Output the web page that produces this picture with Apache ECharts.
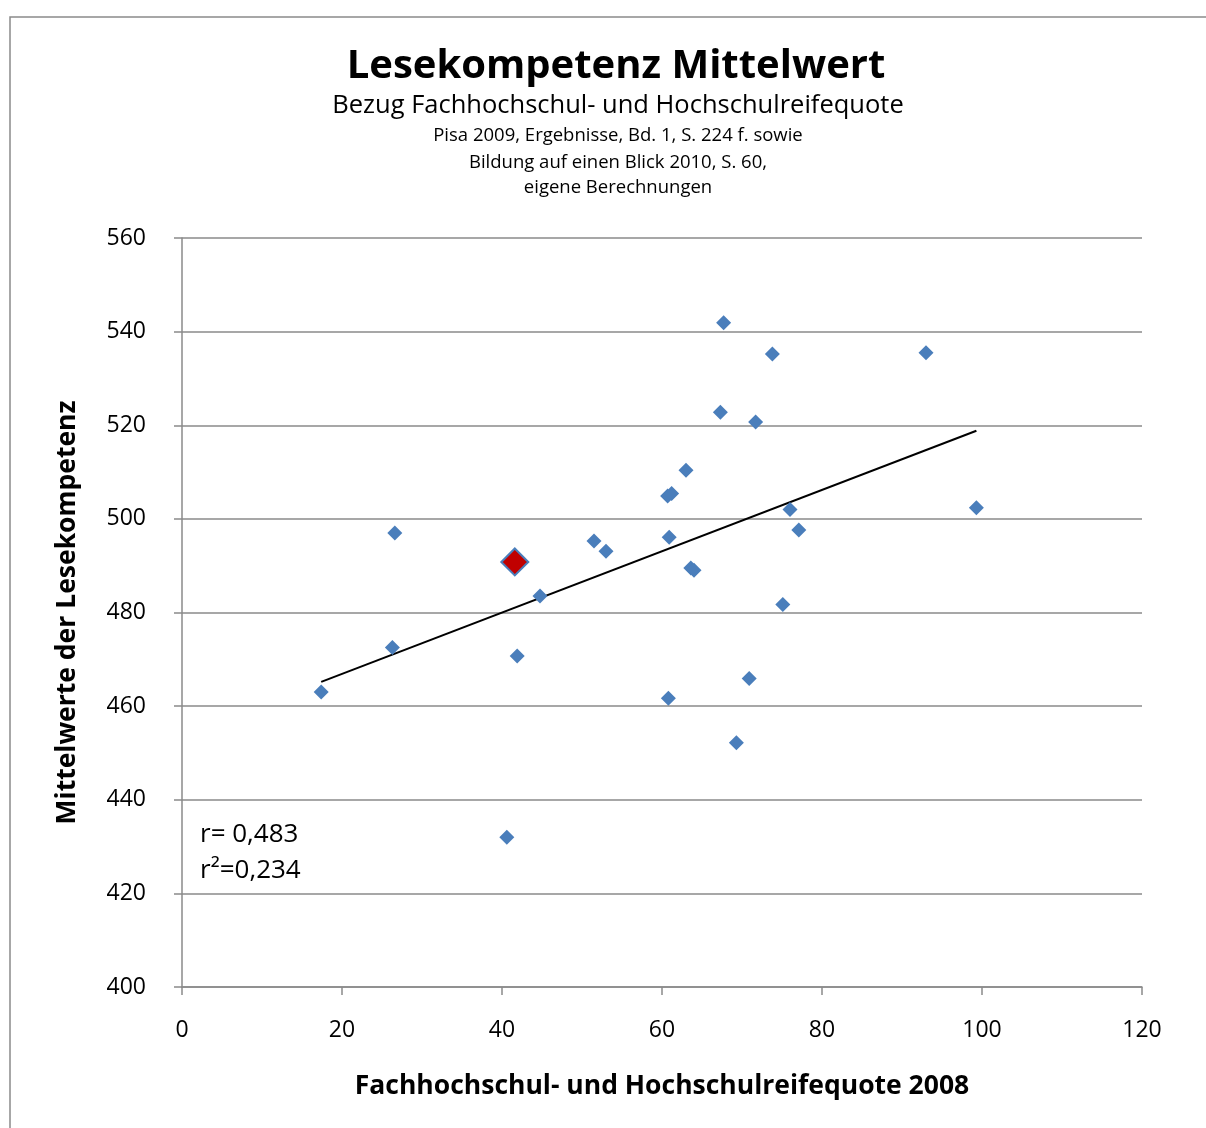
<!DOCTYPE html>
<html>
<head>
<meta charset="utf-8">
<script src="https://cdn.jsdelivr.net/npm/echarts@6/dist/echarts.min.js"></script>
<style>
  html, body { margin: 0; padding: 0; background: #fff; }
  #chart { width: 1206px; height: 1128px; }
</style>
</head>
<body>
<div id="chart"></div>
<script>
// Fachhochschul- und Hochschulreifequote 2008 (x) / Lesekompetenz Mittelwert (y)
var quote = [17.4, 26.3, 26.6, 40.6, 41.9, 44.75, 51.5, 53.0, 60.7, 61.2, 60.9, 60.8, 63.0,
             63.6, 64.0, 67.3, 67.7, 69.3, 70.9, 71.7, 73.8, 75.1, 76.0, 77.1, 93.0, 99.3];
var lese  = [463.0, 472.5, 497.0, 432.0, 470.7, 483.5, 495.3, 493.1, 504.9, 505.4, 496.1, 461.7, 510.4,
             489.5, 489.0, 522.8, 541.9, 452.2, 465.9, 520.7, 535.2, 481.7, 502.0, 497.6, 535.5, 502.4];
// hervorgehobener Punkt (Deutschland)
var deQuote = [41.6];
var deLese  = [490.8];

var yTicks = [400, 420, 440, 460, 480, 500, 520, 540, 560];
var xTicks = [0, 20, 40, 60, 80, 100, 120];

var FONT = '"Open Sans", "Noto Sans", sans-serif';

// lineare Regression über alle Punkte
var allX = quote.concat(deQuote), allY = lese.concat(deLese);
var n = allX.length, mx = 0, my = 0;
for (var i = 0; i < n; i++) { mx += allX[i]; my += allY[i]; }
mx /= n; my /= n;
var sxy = 0, sxx = 0;
for (var i = 0; i < n; i++) { sxy += (allX[i] - mx) * (allY[i] - my); sxx += (allX[i] - mx) * (allX[i] - mx); }
var slope = sxy / sxx, icpt = my - slope * mx;
var x0 = Math.min.apply(null, allX), x1 = Math.max.apply(null, allX);
var trend = [[x0, icpt + slope * x0], [x1, icpt + slope * x1]];

var pts = quote.map(function (v, i) { return [v, lese[i]]; });
var dePts = deQuote.map(function (v, i) { return [v, deLese[i]]; });

var chart = echarts.init(document.getElementById('chart'));
chart.setOption({
  animation: false,
  backgroundColor: '#fff',
  textStyle: { fontFamily: FONT },
  graphic: [
    { type: 'rect', shape: { x: 10, y: 17, width: 1400, height: 1400 },
      style: { fill: 'none', stroke: '#8a8a8a', lineWidth: 1.5 }, z: -1 },
    { type: 'text', x: 616, y: 67, style: { text: 'Lesekompetenz Mittelwert', fontFamily: FONT, fontWeight: 'bold',
      fontSize: 40, fill: '#000', align: 'center', verticalAlign: 'middle' } },
    { type: 'text', x: 618, y: 106, style: { text: 'Bezug Fachhochschul- und Hochschulreifequote', fontFamily: FONT,
      fontSize: 25.5, fill: '#000', align: 'center', verticalAlign: 'middle' } },
    { type: 'text', x: 618, y: 136, style: { text: 'Pisa 2009, Ergebnisse, Bd. 1, S. 224 f. sowie', fontFamily: FONT,
      fontSize: 18.5, fill: '#000', align: 'center', verticalAlign: 'middle' } },
    { type: 'text', x: 618, y: 163, style: { text: 'Bildung auf einen Blick 2010, S. 60,', fontFamily: FONT,
      fontSize: 18.5, fill: '#000', align: 'center', verticalAlign: 'middle' } },
    { type: 'text', x: 618, y: 188, style: { text: 'eigene Berechnungen', fontFamily: FONT,
      fontSize: 18.5, fill: '#000', align: 'center', verticalAlign: 'middle' } },
    { type: 'text', x: 200, y: 835, style: { text: 'r= 0,483', fontFamily: FONT,
      fontSize: 26, fill: '#000', align: 'left', verticalAlign: 'middle' } },
    { type: 'text', x: 200, y: 871, style: { text: 'r²=0,234', fontFamily: FONT,
      fontSize: 26, fill: '#000', align: 'left', verticalAlign: 'middle' } }
  ],
  grid: { left: 182, right: 64, top: 238, bottom: 141 },
  xAxis: {
    type: 'value', min: xTicks[0], max: xTicks[xTicks.length - 1], interval: 20,
    name: 'Fachhochschul- und Hochschulreifequote 2008',
    nameLocation: 'middle', nameGap: 86,
    nameTextStyle: { fontSize: 26.5, fontWeight: 'bold', color: '#000', fontFamily: FONT },
    axisLine: { show: true, onZero: false, lineStyle: { color: '#8a8a8a', width: 1.5 } },
    axisTick: { show: true, length: 8, lineStyle: { color: '#8a8a8a', width: 1.5 } },
    axisLabel: { fontSize: 23, color: '#000', margin: 32, fontFamily: FONT },
    splitLine: { show: false }
  },
  yAxis: {
    type: 'value', min: yTicks[0], max: yTicks[yTicks.length - 1], interval: 20,
    name: 'Mittelwerte der Lesekompetenz',
    nameLocation: 'middle', nameGap: 101, nameRotate: 90,
    nameTextStyle: { fontSize: 26.5, fontWeight: 'bold', color: '#000', fontFamily: FONT },
    axisLine: { show: true, lineStyle: { color: '#8a8a8a', width: 1.5 } },
    axisTick: { show: true, length: 8, lineStyle: { color: '#8a8a8a', width: 1.5 } },
    axisLabel: { fontSize: 23, color: '#000', margin: 36, fontFamily: FONT },
    splitLine: { show: true, lineStyle: { color: '#8a8a8a', width: 1.5 } }
  },
  series: [
    {
      type: 'line', data: trend, symbol: 'none', silent: true, z: 3,
      lineStyle: { color: '#000', width: 2 }
    },
    {
      type: 'scatter', data: pts, symbol: 'diamond', symbolSize: 15, z: 4,
      itemStyle: { color: '#4a7ebb', opacity: 1 }
    },
    {
      type: 'scatter', data: dePts, symbol: 'diamond', symbolSize: 27, z: 5,
      itemStyle: { color: '#c00000', borderColor: '#4a7ebb', borderWidth: 2, opacity: 1 }
    }
  ]
});
</script>
</body>
</html>
